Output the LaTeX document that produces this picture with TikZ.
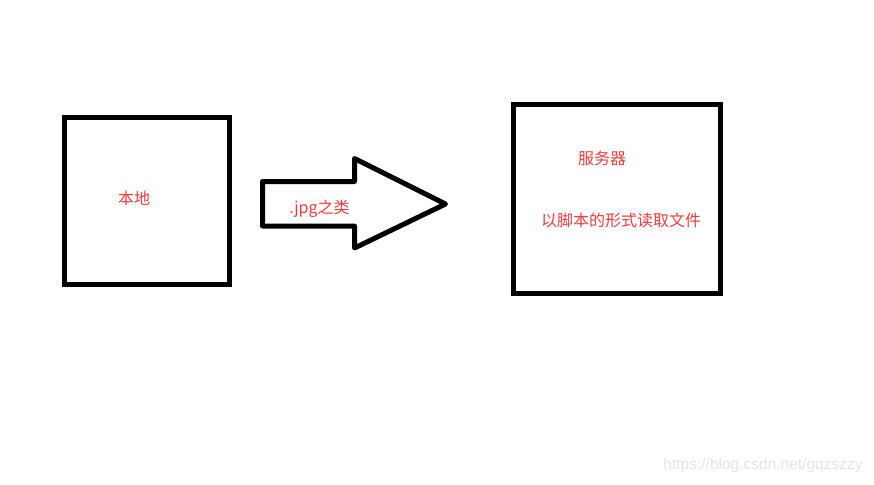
\documentclass[tikz,border=0pt]{standalone}
\usepackage{fontspec}
\setmainfont{Liberation Sans}
\newfontfamily\cjk{Noto Sans CJK SC}
\definecolor{labelred}{RGB}{240,60,60}
\definecolor{markgray}{RGB}{228,228,228}

\tikzset{
  box/.style={draw, line width=5pt, inner sep=0pt},
  label/.style={text=labelred, font=\cjk\fontsize{16}{18}\selectfont, inner sep=0pt},
}

\begin{document}
\begin{tikzpicture}[x=1pt,y=-1pt]
        \useasboundingbox (0,0) rectangle (874,484);
        % boxes
        \node[box, minimum width=165pt, minimum height=166.5pt] (local) at (147,200.75) {};
        \node[box, minimum width=206.5pt, minimum height=188.5pt] (server) at (616.75,198.75) {};
        % the big arrow
        \draw[line width=5pt, line join=round]
            (262.5,181.5) -- (354.5,181.5) -- (354.5,158.5) -- (445.5,204)
            -- (354.5,248) -- (354.5,226) -- (262.5,226) -- cycle;
        \node[label] (a) at (134,198.5) {本地};
        \node[label] (b) at (319.5,209) {.jpg之类};
        \node[label] (c) at (602,158) {服务器};
        \node[label] (d) at (621,220.5) {以脚本的形式读取文件};
        \node[text=markgray, font=\fontsize{15.5}{17}\selectfont, inner sep=0pt] (mark) at (763,465.5) {https://blog.csdn.net/gqzszzy};
\end{tikzpicture}
\end{document}
